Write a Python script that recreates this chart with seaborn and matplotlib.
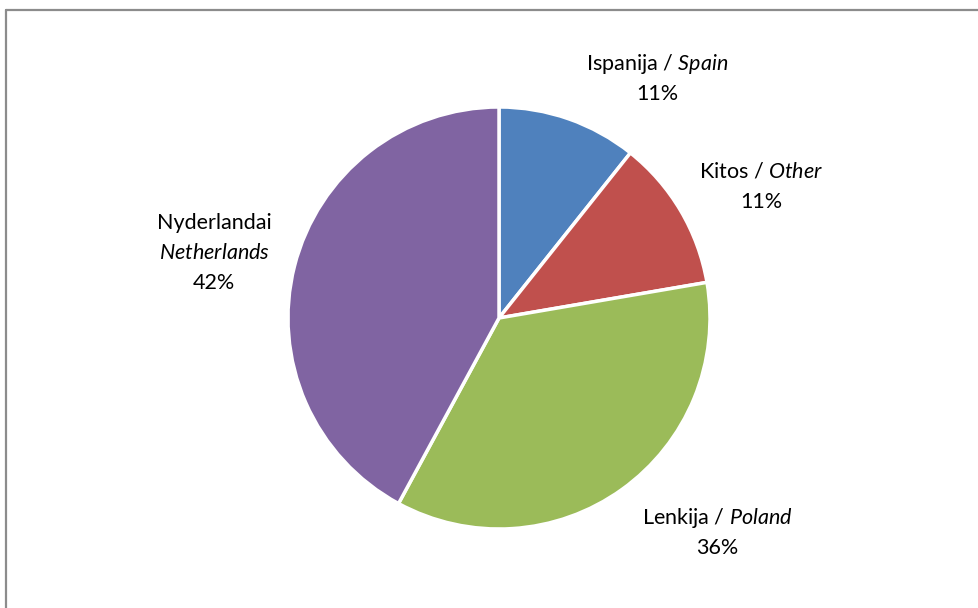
import matplotlib
matplotlib.use("Agg")
import matplotlib.pyplot as plt
import seaborn as sns
from matplotlib.lines import Line2D

sns.set_theme(style="white")
plt.rcParams['font.family'] = ['Lato', 'DejaVu Sans']
plt.rcParams['mathtext.fontset'] = 'custom'
plt.rcParams['mathtext.rm'] = 'Lato'
plt.rcParams['mathtext.it'] = 'Lato:italic'

# Data
countries_lt = ["Ispanija", "Kitos", "Lenkija", "Nyderlandai"]
countries_en = ["Spain", "Other", "Poland", "Netherlands"]
shares = [10.7, 11.6, 35.6, 42.1]
pct_labels = ["11%", "11%", "36%", "42%"]
colors = ["#4F81BD", "#C0504D", "#9BBB59", "#8064A2"]

W, H = 979, 608
fig = plt.figure(figsize=(W / 100, H / 100), dpi=100)
fig.patch.set_facecolor("white")

cx, cy, r = 499, 318, 211
ax = fig.add_axes([(cx - r) / W, (H - cy - r) / H, 2 * r / W, 2 * r / H])
ax.pie(shares, colors=colors, startangle=90, counterclock=False, radius=1.0,
       wedgeprops=dict(edgecolor="white", linewidth=2.5))
ax.set_xlim(-1.0, 1.0)
ax.set_ylim(-1.0, 1.0)
ax.set_aspect("equal")
ax.axis("off")

# label positions (pixel centers, top line)
label_pos = [(657, 64), (761, 172), (717, 518), (214, 223)]
fs = 15.5
lh = 30
for i, (px, py) in enumerate(label_pos):
    if i == 3:
        lines = [countries_lt[i], r"$\mathit{" + countries_en[i] + "}$", pct_labels[i]]
    else:
        lines = [countries_lt[i] + r" / $\mathit{" + countries_en[i] + "}$", pct_labels[i]]
    for j, t in enumerate(lines):
        fig.text(px / W, 1 - (py + j * lh) / H, t, ha="center", va="center",
                 fontsize=fs, color="black")

# chart frame (top and left visible)
fig.add_artist(Line2D([6.5 / W, 1.0], [1 - 9.5 / H, 1 - 9.5 / H], color="#8C8C8C", lw=1.6))
fig.add_artist(Line2D([6.5 / W, 6.5 / W], [1 - 9.5 / H, 0.0], color="#8C8C8C", lw=1.6))

fig.savefig("out.png", dpi=100, facecolor="white")
